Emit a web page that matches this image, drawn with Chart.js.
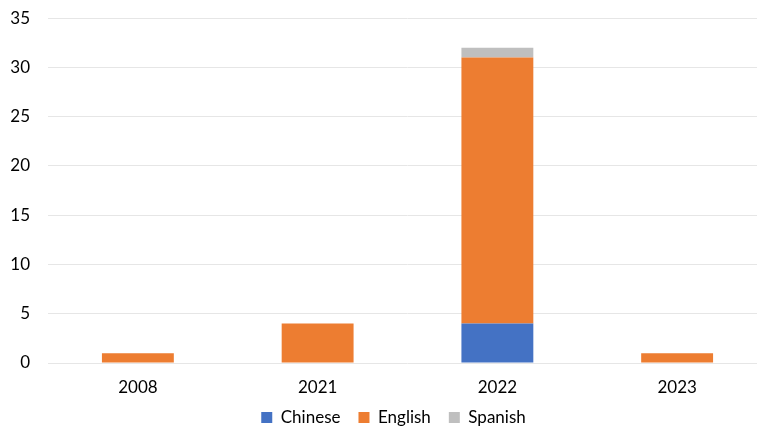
<!DOCTYPE html>
<html>
<head>
<meta charset="utf-8">
<script src="https://cdn.jsdelivr.net/npm/chart.js@4"></script>
<style>
  html, body { margin: 0; padding: 0; background: #ffffff; overflow: hidden; }
  #wrap { width: 757px; height: 430px; overflow: hidden; position: relative; }
  canvas { display: block; }
</style>
</head>
<body>
<div id="wrap"><canvas id="chart" width="786" height="430"></canvas></div>
<script>
// Publications per year, split by language
const years = ['2008', '2021', '2022', '2023'];
const chinese = [0, 0, 4, 0];
const english = [1, 4, 27, 1];
const spanish = [0, 0, 1, 0];
const yTicks = [0, 5, 10, 15, 20, 25, 30, 35];

const font = { family: 'Lato, "Open Sans", sans-serif', size: 17 };

// Pull the legend row up closer to the category labels and centre it on the canvas
const legendRow = {
  id: 'legendRow',
  afterLayout(chart) {
    const lg = chart.legend;
    if (!lg) return;
    lg.top = 391;
    lg.bottom = 430;
    lg.height = 39;
    lg.left += 10;
    lg.right += 10;
  }
};

new Chart(document.getElementById('chart'), {
  type: 'bar',
  data: {
    labels: years,
    datasets: [
      { label: 'Chinese', data: chinese, backgroundColor: '#4472C4' },
      { label: 'English', data: english, backgroundColor: '#ED7D31' },
      { label: 'Spanish', data: spanish, backgroundColor: '#BFBFBF' }
    ]
  },
  options: {
    responsive: false,
    animation: false,
    layout: { padding: { top: 0, right: 19, bottom: -15, left: 0 } },
    datasets: { bar: { categoryPercentage: 1, barPercentage: 0.4 } },
    scales: {
      x: {
        stacked: true,
        grid: { display: false, drawTicks: false },
        border: { display: false },
        ticks: { color: '#000000', font: font, padding: 14 }
      },
      y: {
        stacked: true,
        min: yTicks[0],
        max: yTicks[yTicks.length - 1],
        afterBuildTicks: (axis) => { axis.ticks = yTicks.map(v => ({ value: v })); },
        afterFit: (axis) => { axis.width = 48; },
        grid: { color: '#E6E6E6', lineWidth: 1, drawTicks: true, tickLength: 10, tickColor: 'rgba(0,0,0,0)' },
        border: { display: false },
        ticks: { color: '#000000', font: font, padding: 8 }
      }
    },
    plugins: {
      legend: {
        position: 'bottom',
        maxHeight: 33.6,
        labels: { color: '#000000', font: font, boxWidth: 11, boxHeight: 11, padding: 18 }
      },
      tooltip: { enabled: false }
    }
  },
  plugins: [legendRow]
});
</script>
</body>
</html>
